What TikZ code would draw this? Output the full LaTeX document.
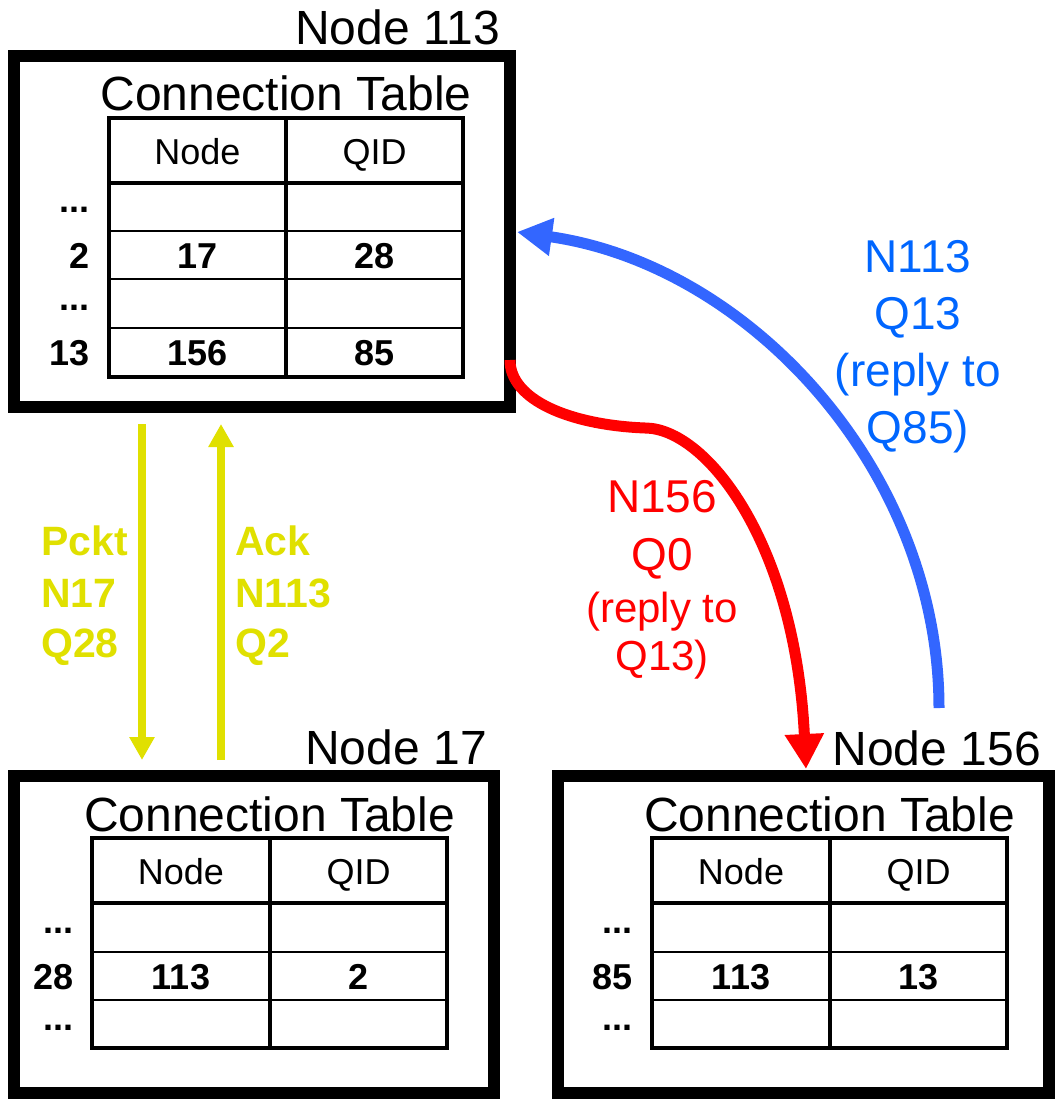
\documentclass[tikz,border=0pt]{standalone}
\usepackage{fontspec}
\setmainfont{Liberation Sans}
\usetikzlibrary{arrows.meta}
\definecolor{ylw}{RGB}{224,224,0}
\definecolor{redc}{RGB}{255,0,0}
\definecolor{bluel}{RGB}{51,102,255}
\definecolor{bluet}{RGB}{0,102,255}
\begin{document}
\begin{tikzpicture}[x=1pt,y=-1pt,
  nodebox/.style={draw=black, line width=12pt, rectangle, inner sep=0pt, outer sep=0pt},
  big/.style={font=\fontsize{48}{48}\selectfont, inner sep=0pt},
  hdr/.style={font=\fontsize{36}{36}\selectfont, inner sep=0pt, anchor=base},
  cell/.style={font=\fontsize{36}{36}\selectfont\bfseries, inner sep=0pt, anchor=base},
  rowlbl/.style={font=\fontsize{36}{36}\selectfont\bfseries, inner sep=0pt, anchor=base east},
  tabframe/.style={line width=3.5pt},
  tabrule/.style={line width=2pt},
  tabmid/.style={line width=4pt},
  ylwarrow/.style={draw=ylw, line width=8pt, -{Triangle[length=23pt,width=24pt]}},
  ylwtext/.style={text=ylw, font=\fontsize{41}{41}\selectfont\bfseries, inner sep=0pt, anchor=base west},
  redarrow/.style={draw=redc, line width=11pt, -{Triangle[length=35pt,width=37pt]}},
  bluearrow/.style={draw=bluel, line width=11pt, -{Triangle[length=35pt,width=36pt]}},
  redbig/.style={text=redc, font=\fontsize{46}{46}\selectfont, inner sep=0pt, anchor=base},
  redsmall/.style={text=redc, font=\fontsize{42}{42}\selectfont, inner sep=0pt, anchor=base},
  bluetext/.style={text=bluet, font=\fontsize{46}{46}\selectfont, inner sep=0pt, anchor=base},
]
\useasboundingbox (0,0) rectangle (1055,1099);

% ---------- boxes ----------
\node[nodebox, minimum width=496pt, minimum height=351pt] (n113) at (262,231.5) {};
\node[nodebox, minimum width=480pt, minimum height=317pt] (n17) at (254,934.5) {};
\node[nodebox, minimum width=491pt, minimum height=317pt] (n156) at (803.5,934.5) {};

\node[big, anchor=base east] (l113) at (500,45) {Node 113};
\node[big, anchor=base east] (l17) at (487,764) {Node 17};
\node[big, anchor=base east] (l156) at (1041,765) {Node 156};

% ---------- table of node 113 ----------
\node[big, anchor=base] (c113) at (286,111) {Connection Table};
\draw[tabrule] (109,231) -- (463,231) (109,279) -- (463,279) (109,328) -- (463,328);
\draw[tabframe] (109,183) -- (463,183);
\draw[tabmid] (286,118) -- (286,377);
\draw[tabframe] (109,118) rectangle (463,377);
\node[hdr] (h113a) at (197.5,165) {Node};
\node[hdr] (h113b) at (374.5,165) {QID};
\node[rowlbl] (r113a) at (90,213) {...};
\node[rowlbl] (r113b) at (90,268) {2};
\node[cell] (v113b1) at (197.5,268) {17};
\node[cell] (v113b2) at (374.5,268) {28};
\node[rowlbl] (r113c) at (90,310) {...};
\node[rowlbl] (r113d) at (90,365.5) {13};
\node[cell] (v113d1) at (197.5,365.5) {156};
\node[cell] (v113d2) at (374.5,365.5) {85};

% ---------- table of node 17 ----------
\node[big, anchor=base] (c17) at (269.5,831) {Connection Table};
\draw[tabrule] (92,952) -- (447,952) (92,1000) -- (447,1000);
\draw[tabframe] (92,903) -- (447,903);
\draw[tabmid] (270,838) -- (270,1048);
\draw[tabframe] (92,838) rectangle (447,1048);
\node[hdr] (h17a) at (181,884) {Node};
\node[hdr] (h17b) at (358.5,884) {QID};
\node[rowlbl] (r17a) at (74,933.5) {...};
\node[rowlbl] (r17b) at (74,989) {28};
\node[cell] (v17b1) at (181,989) {113};
\node[cell] (v17b2) at (358.5,989) {2};
\node[rowlbl] (r17c) at (74,1030) {...};

% ---------- table of node 156 ----------
\node[big, anchor=base] (c156) at (829.5,831) {Connection Table};
\draw[tabrule] (652,952) -- (1007,952) (652,1000) -- (1007,1000);
\draw[tabframe] (652,903) -- (1007,903);
\draw[tabmid] (830,838) -- (830,1048);
\draw[tabframe] (652,838) rectangle (1007,1048);
\node[hdr] (h156a) at (741,884) {Node};
\node[hdr] (h156b) at (918.5,884) {QID};
\node[rowlbl] (r156a) at (633,933.5) {...};
\node[rowlbl] (r156b) at (633,989) {85};
\node[cell] (v156b1) at (741,989) {113};
\node[cell] (v156b2) at (918.5,989) {13};
\node[rowlbl] (r156c) at (633,1030) {...};

% ---------- yellow arrows ----------
\coordinate (pk0) at (142,424);
\coordinate (pk1) at (142,760);
\coordinate (ak0) at (221,760);
\coordinate (ak1) at (221,424);
\draw[ylwarrow] (pk0) -- (pk1);
\draw[ylwarrow] (ak0) -- (ak1);
\node[ylwtext] (pa) at (41,555) {Pckt};
\node[ylwtext] (pb) at (41,607) {N17};
\node[ylwtext] (pc) at (41,657) {Q28};
\node[ylwtext] (aa) at (235,555) {Ack};
\node[ylwtext] (ab) at (235,607) {N113};
\node[ylwtext] (ac) at (235,657) {Q2};

% ---------- red arrow ----------
\coordinate (rs) at (510,360);
\coordinate (rm) at (645,428);
\coordinate (re) at (806,769);
\draw[redarrow] (rs) .. controls (510,400) and (570,425) .. (rm)
  .. controls (705,428) and (795,540) .. (re);
\node[redbig] (ra) at (662,512) {N156};
\node[redbig] (rb) at (662,570) {Q0};
\node[redsmall] (rc) at (662,622) {(reply to};
\node[redsmall] (rd) at (662,670) {Q13)};

% ---------- blue arrow ----------
\coordinate (bs) at (939,708);
\coordinate (be) at (517,232);
\draw[bluearrow] (bs) .. controls (939,470) and (749,265) .. (be);
\node[bluetext] (ba) at (918,272) {N113};
\node[bluetext] (bb) at (918,329) {Q13};
\node[bluetext] (bc) at (918,386) {(reply to};
\node[bluetext] (bd) at (918,443) {Q85)};
\end{tikzpicture}
\end{document}
